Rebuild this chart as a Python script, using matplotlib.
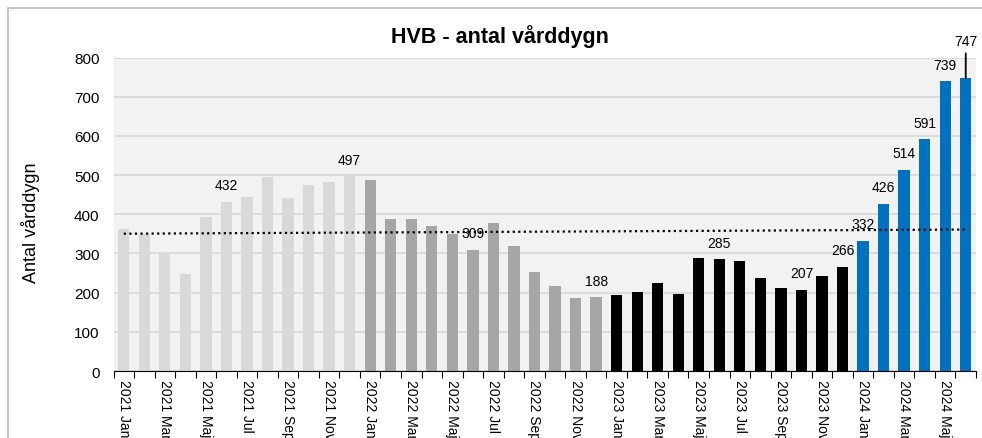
import matplotlib.pyplot as plt
from matplotlib.patches import Rectangle
import numpy as np

plt.rcParams['font.family'] = ['Liberation Sans', 'DejaVu Sans']

# monthly values, 2021 Jan .. 2024 Jun
years = [2021, 2022, 2023, 2024]
months = ['Jan', 'Feb', 'Mar', 'Apr', 'Maj', 'Jun',
          'Jul', 'Aug', 'Sep', 'Okt', 'Nov', 'Dec']
v2021 = [363, 350, 301, 248, 394, 432, 444, 494, 442, 475, 482, 497]
v2022 = [488, 387, 389, 369, 350, 309, 378, 319, 252, 217, 187, 188]
v2023 = [194, 202, 224, 196, 288, 285, 281, 237, 211, 207, 242, 266]
v2024 = [332, 426, 514, 591, 739, 747]
year_colors = ['#D9D9D9', '#A6A6A6', '#000000', '#0070C0']

# which months get a value label
labelled = ['2021 Jun', '2021 Dec', '2022 Jun', '2022 Dec', '2023 Jun',
            '2023 Okt', '2023 Dec', '2024 Jan', '2024 Feb', '2024 Mar',
            '2024 Apr', '2024 Maj', '2024 Jun']

series = [v2021, v2022, v2023, v2024]
values, colors, names = [], [], []
for y, vals, c in zip(years, series, year_colors):
    for i, v in enumerate(vals):
        values.append(v)
        colors.append(c)
        names.append(f'{y} {months[i]}')
values = np.array(values)
x = np.arange(len(values))

fig = plt.figure(figsize=(9.82, 4.39), dpi=100)
ax = fig.add_axes([113.5 / 982, 1 - 372 / 439, (976 - 113.5) / 982, (372 - 58.5) / 439])
ax.set_facecolor('#F2F2F2')

ax.bar(x, values, width=0.55, color=colors, zorder=3)

# linear trend line
k, m = np.polyfit(x, values, 1)
ax.plot([x[0], x[-1]], [m, k * x[-1] + m], ls=(0, (1, 1.5)), color='black', lw=1.6, zorder=4)

for xi, v, n in zip(x, values, names):
    if n not in labelled:
        continue
    if n == '2024 Jun':
        ax.annotate(str(v), (xi, v), xytext=(0, 22), textcoords='offset points',
                    ha='center', va='bottom', fontsize=10, annotation_clip=False,
                    arrowprops=dict(arrowstyle='-', color='black', lw=1.3, shrinkA=2, shrinkB=0))
    else:
        ax.annotate(str(v), (xi, v), xytext=(0, 7), textcoords='offset points',
                    ha='center', va='bottom', fontsize=10, zorder=5)

ax.set_xlim(-0.5, len(values) - 0.5)
ax.set_ylim(0, 800)
ax.set_yticks(range(0, 801, 100))
ax.yaxis.grid(True, color='#D9D9D9', lw=1.3, zorder=0)
ax.tick_params(axis='y', length=0, pad=10, labelsize=11)

ax.set_xticks(x[::2])
ax.set_xticklabels(names[::2], rotation=270, fontsize=10, va='top', ha='center')
ax.set_xticks(np.arange(-0.5, len(values), 1), minor=True)
ax.tick_params(axis='x', which='major', length=0, pad=6)
ax.tick_params(axis='x', which='minor', length=5, width=0.8, direction='out')

for s in ['left', 'right', 'top']:
    ax.spines[s].set_visible(False)
ax.spines['bottom'].set_color('black')
ax.spines['bottom'].set_zorder(5)

fig.text(31 / 982, 1 - 223 / 439, 'Antal vårddygn', rotation=90, ha='center', va='center', fontsize=13)
fig.text(500 / 982, 1 - 37 / 439, 'HVB - antal vårddygn', ha='center', va='center',
         fontsize=15.5, fontweight='bold')

# outer chart border
fig.patches.append(Rectangle((7.5 / 982, -0.1), 1.1, 1.1 - 9 / 439, transform=fig.transFigure,
                             fill=False, edgecolor='#BFBFBF', lw=1.2))

fig.savefig('out.png', dpi=100)
